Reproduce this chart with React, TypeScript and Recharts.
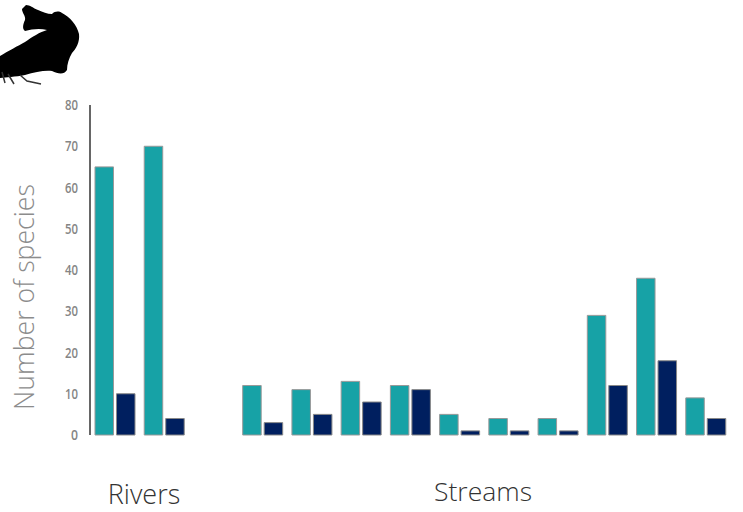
import { Bar, BarChart, XAxis, YAxis } from 'recharts'

const slots = ['r1', 'r2', 'gap', 's1', 's2', 's3', 's4', 's5', 's6', 's7', 's8', 's9', 's10']
const tealValues = [65, 70, null, 12, 11, 13, 12, 5, 4, 4, 29, 38, 9]
const navyValues = [10, 4, null, 3, 5, 8, 11, 1, 1, 1, 12, 18, 4]
const yTicks = [0, 10, 20, 30, 40, 50, 60, 70, 80]

const rows = slots.map((slot, i) => ({ slot, teal: tealValues[i], navy: navyValues[i] }))

const fishPath =
  'M26 5 C30 5 33 8 38 10 C43 12 47 14 52 14 C55 11 59 11 62 13 C70 17 77 25 79 34 C80 42 76 49 72 53 C69 58 67 64 67 70 C64 75 58 74 52 71 C45 70 35 72 25 75 C15 77 6 77 0 78 L0 56 C8 51 18 46 25 42 C32 37 40 32 47 30 C40 28 32 29 25 31 C22 29 23 24 25 20 C26 16 22 13 22 9 Z'

function NarrowTick({ x, y, payload }: any) {
  const label = String(payload.value)
  return (
    <text
      x={x}
      y={y}
      dy={5}
      textAnchor='end'
      textLength={label.length === 1 ? 7 : 13}
      lengthAdjust='spacingAndGlyphs'
      fill='#858585'
      fontSize={14}
      fontWeight={600}
      fontFamily='Open Sans'
    >
      {label}
    </text>
  )
}

function App() {
  return (
    <div style={{ position: 'absolute', left: 0, top: 0, width: 743, height: 512, background: '#fff' }}>
      <BarChart
        width={743}
        height={512}
        data={rows}
        margin={{ top: 105, right: 13, bottom: 77, left: 0 }}
        barSize={18.5}
        barGap={3}
      >
        <XAxis dataKey='slot' hide />
        <YAxis
          width={90}
          domain={[0, 80]}
          ticks={yTicks}
          tickLine={false}
          tickMargin={6}
          axisLine={{ stroke: '#333', strokeWidth: 1.5 }}
          tick={<NarrowTick />}
        />
        <Bar dataKey='teal' fill='#17A2A6' stroke='#999' strokeWidth={1} isAnimationActive={false} />
        <Bar dataKey='navy' fill='#001F5F' stroke='#888' strokeWidth={1} isAnimationActive={false} />
      </BarChart>
      <svg width={743} height={512} style={{ position: 'absolute', left: 0, top: 0, pointerEvents: 'none' }}>
        <path d={fishPath} fill='#000' />
        <path d='M2 72 L5 83 M8 74 L14 84 M20 75 L27 81 L41 84' fill='none' stroke='#333' strokeWidth={1.5} />
        <text
          transform='translate(34 297) rotate(-90)'
          textAnchor='middle'
          fontFamily='Open Sans'
          fontWeight={300}
          fontSize={26.7}
          fill='#8c8c8c'
        >
          Number of species
        </text>
        <text x={144} y={504} textAnchor='middle' fontFamily='Open Sans' fontWeight={300} fontSize={27} fill='#333'>
          Rivers
        </text>
        <text x={483} y={501} textAnchor='middle' fontFamily='Open Sans' fontWeight={300} fontSize={26.5} fill='#333'>
          Streams
        </text>
      </svg>
    </div>
  )
}

export default App
